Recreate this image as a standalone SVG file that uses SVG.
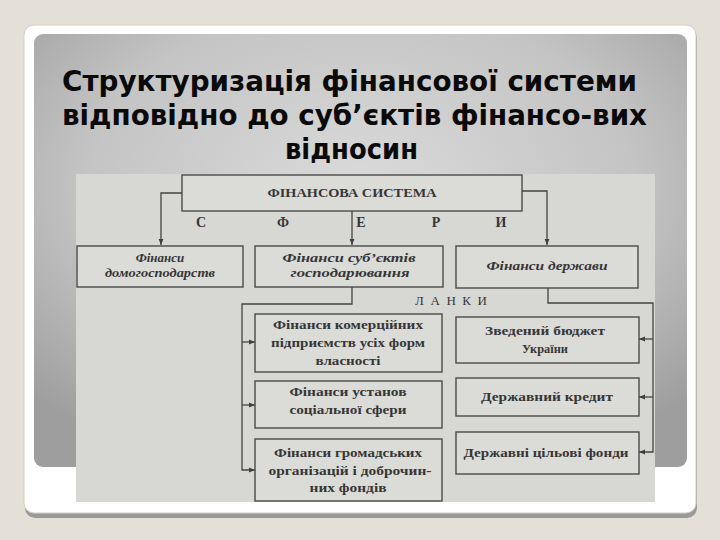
<svg xmlns="http://www.w3.org/2000/svg" width="720" height="540" viewBox="0 0 720 540">
<defs>
<radialGradient id="panelGrad" cx="50%" cy="35%" r="70%">
<stop offset="0" stop-color="#dadada"/>
<stop offset="0.6" stop-color="#c4c4c4"/>
<stop offset="1" stop-color="#9e9e9e"/>
</radialGradient>
<marker id="arr" viewBox="0 0 8 8" refX="8" refY="4" markerWidth="6" markerHeight="6" orient="auto" markerUnits="userSpaceOnUse">
<path d="M0,0.8 L8,4 L0,7.2 Z" fill="#3f3f3f"/>
</marker>
<style>
.title{font-family:"DejaVu Sans","Liberation Sans",sans-serif;font-weight:bold;font-size:28px;fill:#0a0a0a}
.box{fill:#dbdbd8;stroke:#4a4a4a;stroke-width:1.4}
.con{fill:none;stroke:#444444;stroke-width:1.3}
.t{font-family:"Liberation Serif","Times New Roman",serif;font-weight:bold;font-size:13px;fill:#363636;text-anchor:middle}
.ti{font-family:"Liberation Serif","Times New Roman",serif;font-weight:bold;font-style:italic;font-size:13px;fill:#363636;text-anchor:middle}
.lt{font-family:"Liberation Serif","Times New Roman",serif;font-weight:bold;font-size:14px;fill:#363636;text-anchor:middle}
</style>
</defs>
<rect x="0" y="0" width="720" height="540" fill="#e5e0d7"/>
<rect x="25" y="28" width="672" height="490" rx="10" fill="#9a9a9a"/>
<rect x="24" y="25" width="672" height="488" rx="10" fill="#ffffff" stroke="#d4cfc4" stroke-width="1"/>
<rect x="34" y="34" width="653" height="433" rx="9" fill="url(#panelGrad)"/>
<text class="title" x="62" y="91" textLength="575" lengthAdjust="spacingAndGlyphs">Структуризація фінансової системи</text>
<text class="title" x="62" y="125" textLength="585" lengthAdjust="spacingAndGlyphs">відповідно до суб’єктів фінансо-вих</text>
<text class="title" x="285" y="159" textLength="133" lengthAdjust="spacingAndGlyphs">відносин</text>
<rect x="76" y="174" width="579" height="328" fill="#d7d7d4"/>
<g id="connectors">
<polyline class="con" points="182,193 161,193 161,245" marker-end="url(#arr)"/>
<polyline class="con" points="352,211 352,245" marker-end="url(#arr)"/>
<polyline class="con" points="522,191 547,191 547,245" marker-end="url(#arr)"/>
<polyline class="con" points="352,287 352,304 242,304 242,470 255,470" marker-end="url(#arr)"/>
<line class="con" x1="242" y1="342" x2="255" y2="342" marker-end="url(#arr)"/>
<line class="con" x1="242" y1="405" x2="255" y2="405" marker-end="url(#arr)"/>
<polyline class="con" points="548,288 548,303 653,303 653,452 639,452" marker-end="url(#arr)"/>
<line class="con" x1="653" y1="339" x2="639" y2="339" marker-end="url(#arr)"/>
<line class="con" x1="653" y1="397" x2="639" y2="397" marker-end="url(#arr)"/>
</g>
<g id="letters">
<text class="lt" x="201" y="227">С</text>
<text class="lt" x="283" y="227">Ф</text>
<text class="lt" x="361" y="227">Е</text>
<text class="lt" x="436" y="227">Р</text>
<text class="lt" x="501" y="227">И</text>
<text x="451" y="305" font-family="Liberation Serif, serif" font-size="13" fill="#363636" text-anchor="middle" textLength="72">ЛАНКИ</text>
</g>
<g id="n-fs">
<rect class="box" x="182" y="175" width="340" height="36"/>
<text class="t" x="352" y="197" font-size="12" textLength="169" lengthAdjust="spacingAndGlyphs">ФІНАНСОВА СИСТЕМА</text>
</g>
<g id="n-households">
<rect class="box" x="77" y="246" width="166" height="41"/>
<text class="ti" x="160" y="262">Фінанси</text>
<text class="ti" x="160" y="277" textLength="110" lengthAdjust="spacingAndGlyphs">домогосподарств</text>
</g>
<g id="n-entities">
<rect class="box" x="255" y="246" width="188" height="41"/>
<text class="ti" x="349" y="262" textLength="133" lengthAdjust="spacingAndGlyphs">Фінанси суб’єктів</text>
<text class="ti" x="350" y="277" textLength="119" lengthAdjust="spacingAndGlyphs">господарювання</text>
</g>
<g id="n-state">
<rect class="box" x="456" y="246" width="182" height="42"/>
<text class="ti" x="547" y="270" textLength="121" lengthAdjust="spacingAndGlyphs">Фінанси держави</text>
</g>
<g id="n-commercial">
<rect class="box" x="255" y="314" width="187" height="58"/>
<text class="t" x="348" y="329" textLength="150" lengthAdjust="spacingAndGlyphs">Фінанси комерційних</text>
<text class="t" x="348" y="347" textLength="154" lengthAdjust="spacingAndGlyphs">підприємств усіх форм</text>
<text class="t" x="348" y="365" textLength="65" lengthAdjust="spacingAndGlyphs">власності</text>
</g>
<g id="n-social">
<rect class="box" x="255" y="381" width="187" height="47"/>
<text class="t" x="348" y="396" textLength="117" lengthAdjust="spacingAndGlyphs">Фінанси установ</text>
<text class="t" x="348" y="414" textLength="117" lengthAdjust="spacingAndGlyphs">соціальної сфери</text>
</g>
<g id="n-public">
<rect class="box" x="255" y="439" width="187" height="62"/>
<text class="t" x="348" y="457" textLength="148" lengthAdjust="spacingAndGlyphs">Фінанси громадських</text>
<text class="t" x="350" y="475" textLength="163" lengthAdjust="spacingAndGlyphs">організацій і доброчин-</text>
<text class="t" x="348" y="492" textLength="77" lengthAdjust="spacingAndGlyphs">них фондів</text>
</g>
<g id="n-budget">
<rect class="box" x="456" y="317" width="183" height="46"/>
<text class="t" x="545" y="335" textLength="120" lengthAdjust="spacingAndGlyphs">Зведений бюджет</text>
<text class="t" x="545" y="353" textLength="46" lengthAdjust="spacingAndGlyphs">України</text>
</g>
<g id="n-credit">
<rect class="box" x="456" y="378" width="183" height="38"/>
<text class="t" x="547" y="401" textLength="132" lengthAdjust="spacingAndGlyphs">Державний кредит</text>
</g>
<g id="n-funds">
<rect class="box" x="456" y="432" width="183" height="42"/>
<text class="t" x="546" y="457" textLength="165" lengthAdjust="spacingAndGlyphs">Державні цільові фонди</text>
</g>
</svg>
